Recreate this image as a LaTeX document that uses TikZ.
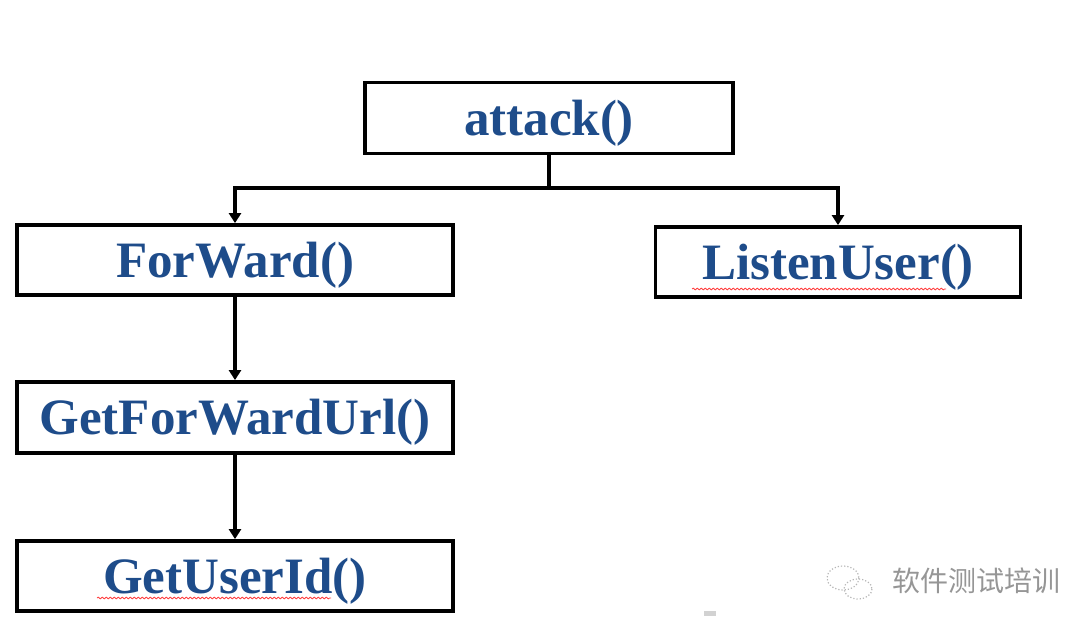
\documentclass[tikz,border=0pt]{standalone}
\usepackage{fontspec}
\setmainfont{Liberation Serif}
\newfontfamily\cjk{Noto Sans CJK SC}
\usetikzlibrary{arrows.meta,decorations.pathmorphing}
\definecolor{txtblue}{RGB}{30,76,138}
\definecolor{wmgray}{RGB}{150,150,150}
\tikzset{
  fbox/.style={draw=black, line width=3.8pt, fill=white, text=txtblue,
    font=\fontsize{51}{54}\selectfont\bfseries, inner sep=0pt, anchor=center,
    text height=44pt, text depth=10pt},
  conn/.style={draw=black, line width=3.2pt, -{Triangle[width=12pt,length=10pt]}},
  plain/.style={draw=black, line width=3.2pt},
  squig/.style={draw=red!75, line width=0.8pt, decorate,
    decoration={snake, amplitude=0.9pt, segment length=4pt}},
}
\begin{document}
\begin{tikzpicture}[x=1pt,y=-1pt]
\useasboundingbox (0,0) rectangle (1071,632);
\node[fbox, minimum width=368, minimum height=71] (attack) at (549,118) {attack()};
\node[fbox, minimum width=436, minimum height=70] (forward) at (235,260) {ForWard()};
\node[fbox, minimum width=365, minimum height=70] (listen) at (838,262) {ListenUser()};
\node[fbox, minimum width=436, minimum height=71] (geturl) at (235,417.5) {GetForWardUrl()};
\node[fbox, minimum width=436, minimum height=70] (getid) at (235,576) {GetUserId()};
\coordinate (j) at (549,188);
\draw[plain] (attack.south) -- (j);
\draw[conn] (j) -| (forward.north);
\draw[conn] (j) -| (listen.north);
\draw[conn] (forward.south) -- (geturl.north);
\draw[conn] (geturl.south) -- (getid.north);
% spell-check underlines
\coordinate (sl1) at (692,289); \coordinate (sl2) at (946,289);
\draw[squig] (sl1) -- (sl2);
\coordinate (sg1) at (97,598); \coordinate (sg2) at (331,598);
\draw[squig] (sg1) -- (sg2);
% watermark
\node[text=wmgray, font=\cjk\fontsize{28}{30}\selectfont, anchor=west, inner sep=0pt] (wm) at (892,581) {软件测试培训};
\draw[wmgray!70, line width=1.2pt, dotted] (843,578) ellipse [x radius=16, y radius=12];
\draw[wmgray!70, line width=1.2pt, dotted] (858,589) ellipse [x radius=14, y radius=10];
\fill[gray!35] (704,611) rectangle (716,616);
\end{tikzpicture}
\end{document}
